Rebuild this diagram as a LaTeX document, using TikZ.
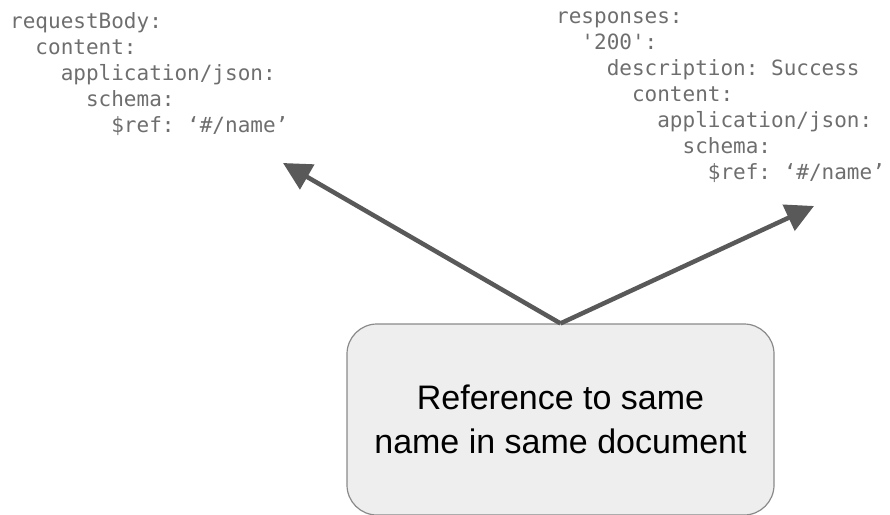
\documentclass[tikz,border=0pt]{standalone}
\usepackage{fontspec}
\setmainfont{Liberation Sans}
\setmonofont{DejaVu Sans Mono}
\usepackage{xcolor}
\usetikzlibrary{arrows.meta, positioning}
\definecolor{codegray}{HTML}{6E6E6E}
\definecolor{arrowgray}{HTML}{595959}
\definecolor{boxfill}{HTML}{EEEEEE}
\definecolor{boxline}{HTML}{8A8A8A}
\tikzstyle{codeblock} = [anchor=north west, inner sep=0pt, align=left, text=codegray, font=\ttfamily\fontsize{21}{26}\selectfont]
\tikzstyle{notebox} = [rectangle, rounded corners=30pt, minimum width=427pt, minimum height=191pt, align=center, draw=boxline, line width=1.2pt, fill=boxfill, font=\fontsize{34}{44}\selectfont]
\tikzstyle{refarrow} = [line width=4.5pt, draw=arrowgray, -{Triangle[length=28pt, width=28pt]}]

\begin{document}
\begin{tikzpicture}[x=1pt, y=-1pt]
    \useasboundingbox (0,0) rectangle (890,514);
    \node (req) [codeblock] at (10,12) {requestBody:\\
~~content:\\
~~~~application/json:\\
~~~~~~schema:\\
~~~~~~~~\$ref: ‘\#/name’};
    \node (resp) [codeblock] at (556,12) {responses:\\
~~'200':\\
~~~~description: Success\\
~~~~~~content:\\
~~~~~~~~application/json:\\
~~~~~~~~~~schema:\\
~~~~~~~~~~~~\$ref: ‘\#/name’};
    \node (note) [notebox] at (560.5,419.5) {Reference to same\\name in same document};
    \coordinate (reqtip) at (283,163);
    \coordinate (resptip) at (814,206);
    \draw [refarrow] (note.north) -- (reqtip);
    \draw [refarrow] (note.north) -- (resptip);
\end{tikzpicture}
\end{document}
